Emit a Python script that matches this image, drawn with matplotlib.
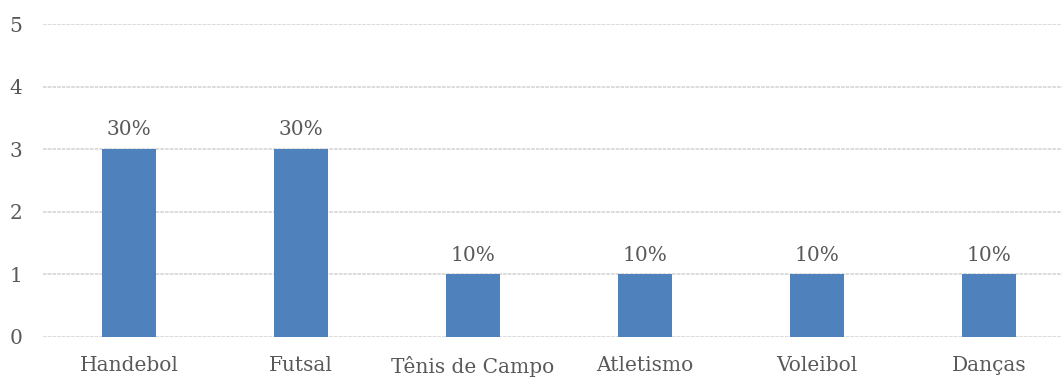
import matplotlib
matplotlib.use("Agg")
import matplotlib.pyplot as plt

categories = ["Handebol", "Futsal", "Tênis de Campo", "Atletismo", "Voleibol", "Danças"]
counts = [3, 3, 1, 1, 1, 1]
percent_labels = ["30%", "30%", "10%", "10%", "10%", "10%"]
y_ticks = [0, 1, 2, 3, 4, 5]

bar_color = "#4F81BD"
text_color = "#595959"
grid_color = "#D9D9D9"
font = ["DejaVu Serif"]
fsize = 14.5

fig = plt.figure(figsize=(10.62, 3.79), dpi=100)
ax = fig.add_axes([43 / 1062, 42 / 379, 1032 / 1062, 313 / 379])

x = list(range(len(categories)))
ax.bar(x, counts, width=0.314, color=bar_color, zorder=3)

for xi, v, lab in zip(x, counts, percent_labels):
    ax.annotate(lab, (xi, v), xytext=(0, 7), textcoords="offset points",
                ha="center", va="bottom", fontsize=fsize, color=text_color,
                family=font)

ax.set_xlim(-0.5, len(categories) - 0.5)
ax.set_ylim(0, 5)
ax.set_yticks(y_ticks)
ax.set_yticklabels([str(t) for t in y_ticks], family=font, fontsize=fsize, color=text_color)
ax.set_xticks(x)
ax.set_xticklabels(categories, family=font, fontsize=fsize, color=text_color)
ax.tick_params(axis="both", length=0)
ax.tick_params(axis="y", pad=15)
ax.tick_params(axis="x", pad=14)

ax.yaxis.grid(True, color=grid_color, linewidth=1.3, linestyle=(0, (2, 0.6)), zorder=0)
for side in ax.spines.values():
    side.set_visible(False)

fig.savefig("out.png", dpi=100)
